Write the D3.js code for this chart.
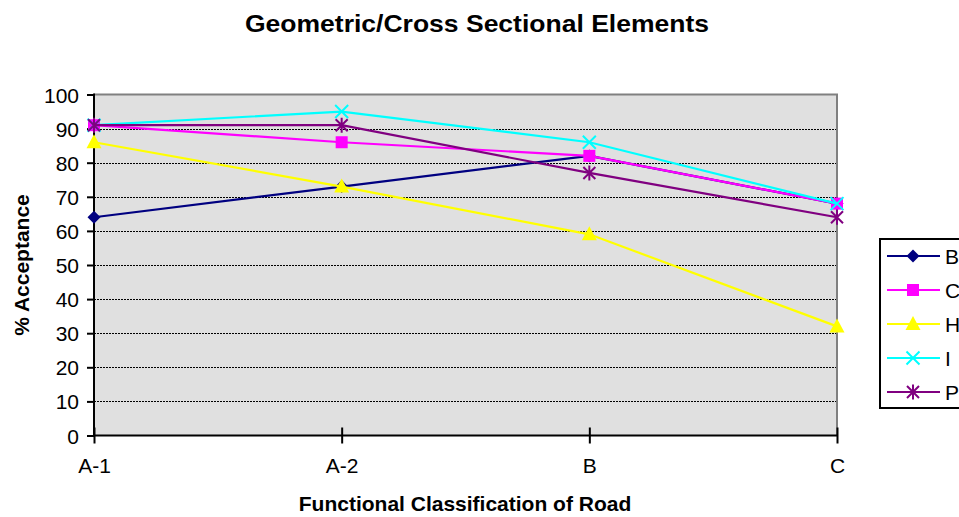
<!DOCTYPE html>
<html><head><meta charset="utf-8">
<script src="https://cdn.jsdelivr.net/npm/d3@7/dist/d3.min.js"></script>
<style>body{margin:0;background:#fff}svg{display:block;font-family:"Liberation Sans",Arial,sans-serif}</style>
</head><body>
<svg id="c" width="959" height="517"></svg>
<script>
const categories = ["A-1","A-2","B","C"];
const seriesNames = ["B","C","H","I","P"];
const valuesB = [64,73,82,68];
const valuesC = [91,86,82,68];
const valuesH = [86,73,59,32];
const valuesI = [91,95,86,68];
const valuesP = [91,91,77,64];
const yTicks = [0,10,20,30,40,50,60,70,80,90,100];
const colors = ["#000080","#FF00FF","#FFFF00","#00FFFF","#800080"];
const markers = ["diamond","square","triangle","x","star"];
const series = [valuesB,valuesC,valuesH,valuesI,valuesP];

const FF = "Liberation Sans, Arial, sans-serif";
const svg = d3.select("#c");
const L=94,R=837,T=94.5,B=435.5;
const x = d3.scalePoint().domain(categories).range([L,R]);
const y = d3.scaleLinear().domain([0,100]).range([B,T]);

svg.append("rect").attr("x",L).attr("y",T).attr("width",R-L).attr("height",B-T).attr("fill","#E0E0E0");
svg.append("g").selectAll("line").data(yTicks.filter(d=>d>0&&d<100)).join("line")
 .attr("x1",L).attr("x2",R).attr("y1",d=>Math.round(y(d))+0.5).attr("y2",d=>Math.round(y(d))+0.5)
 .attr("stroke","#000").attr("stroke-width",1).attr("stroke-dasharray","2,1");
svg.append("path").attr("d",`M${L},${T}H${R}V${B}`).attr("fill","none").attr("stroke","#808080").attr("stroke-width",2);

const yAxis = d3.axisLeft(y).tickValues(yTicks).tickSize(7).tickPadding(8);
const gy = svg.append("g").attr("transform",`translate(${L},0)`).call(yAxis);
gy.select(".domain").attr("stroke","#000").attr("stroke-width",2).attr("d",`M0,${T-1}V${B+1}`);
gy.selectAll(".tick line").attr("stroke","#000").attr("stroke-width",2);
gy.selectAll("text").attr("font-size",21).attr("fill","#000").attr("font-family",FF).attr("dy","0.36em");

const xAxis = d3.axisBottom(x).tickSize(8).tickPadding(15);
const gx = svg.append("g").attr("transform",`translate(0,${B})`).call(xAxis);
gx.select(".domain").attr("stroke","#000").attr("stroke-width",2).attr("d",`M${L-1},0H${R+1}`);
gx.selectAll(".tick line").attr("stroke","#000").attr("stroke-width",2).attr("y1",-8).attr("y2",8);
gx.selectAll("text").attr("font-size",21).attr("fill","#000").attr("font-family",FF);

function marker(g,type,color,cx,cy){
  const s=6.5;
  if(type==="diamond") g.append("path").attr("d",`M${cx},${cy-s}L${cx+s},${cy}L${cx},${cy+s}L${cx-s},${cy}Z`).attr("fill",color);
  else if(type==="square") g.append("rect").attr("x",cx-6).attr("y",cy-6).attr("width",12).attr("height",12).attr("fill",color);
  else if(type==="triangle") g.append("path").attr("d",`M${cx},${cy-8}L${cx+7.5},${cy+6}L${cx-7.5},${cy+6}Z`).attr("fill",color);
  else if(type==="x") g.append("path").attr("d",`M${cx-6.5},${cy-6.5}L${cx+6.5},${cy+6.5}M${cx+6.5},${cy-6.5}L${cx-6.5},${cy+6.5}`).attr("stroke",color).attr("stroke-width",2);
  else if(type==="star") g.append("path").attr("d",`M${cx-6},${cy-6}L${cx+6},${cy+6}M${cx+6},${cy-6}L${cx-6},${cy+6}M${cx},${cy-7.5}V${cy+7.5}`).attr("stroke",color).attr("stroke-width",2);
}

const line = d3.line().x((d,i)=>x(categories[i])).y(d=>y(d));
series.forEach((vals,si)=>{
  const g = svg.append("g");
  g.append("path").datum(vals).attr("d",line).attr("fill","none").attr("stroke",colors[si]).attr("stroke-width",2.2);
  vals.forEach((v,i)=>marker(g,markers[si],colors[si],x(categories[i]),y(v)));
});

svg.append("text").attr("x",477).attr("y",32).attr("text-anchor","middle").attr("font-size",24).attr("font-weight","bold")
  .attr("textLength",464).attr("lengthAdjust","spacingAndGlyphs").text("Geometric/Cross Sectional Elements");
svg.append("text").attr("x",465).attr("y",511).attr("text-anchor","middle").attr("font-size",21).attr("font-weight","bold").text("Functional Classification of Road");
svg.append("text").attr("transform",`translate(29,${(T+B)/2}) rotate(-90)`).attr("text-anchor","middle").attr("font-size",21).attr("font-weight","bold").text("% Acceptance");

const lg = svg.append("g");
lg.append("rect").attr("x",880).attr("y",239).attr("width",100).attr("height",169).attr("fill","#fff").attr("stroke","#000").attr("stroke-width",2);
seriesNames.forEach((n,i)=>{
  const yy = 256 + i*34;
  lg.append("line").attr("x1",887).attr("x2",940).attr("y1",yy).attr("y2",yy).attr("stroke",colors[i]).attr("stroke-width",2.2);
  marker(lg,markers[i],colors[i],913,yy);
  lg.append("text").attr("x",945).attr("y",yy+7.5).attr("font-size",21).text(n);
});
</script>
</body></html>
